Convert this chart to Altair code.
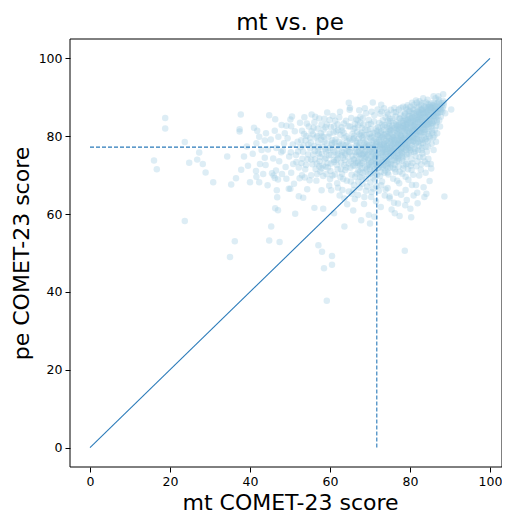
import altair as alt
import pandas as pd

# ---- values ----
chart_title = "mt vs. pe"
mean_mt = 71.7   # vertical dashed line (mt)
mean_pe = 77.2   # horizontal dashed line (pe)
tick_values = [0, 20, 40, 60, 80, 100]
diag_mt = [0, 100]
diag_pe = [0, 100]
x_limits = [-5, 103]
y_limits = [-5, 105]

# sparse outlying points (mt, pe)
outlier_points = [
    (18.8, 84.7), (18.8, 82.0), (16.0, 73.8), (16.7, 71.5), (23.7, 78.5), (23.7, 58.2), (24.8, 73.2),
    (27.3, 75.8), (26.8, 74.0), (28.2, 72.9), (28.9, 70.7), (30.8, 68.2), (34.3, 74.8), (35.3, 67.6),
    (36.5, 69.2), (37.7, 85.6), (37.4, 81.8), (37.4, 81.2), (37.8, 71.4), (38.5, 74.8), (39.2, 77.4),
    (39.5, 72.4), (40.0, 68.2), (40.7, 75.5), (41.0, 82.2), (41.5, 71.1), (41.6, 69.6), (41.8, 81.4),
    (42.3, 68.2), (42.5, 72.9), (41.6, 78.2), (42.3, 79.9), (43.7, 78.9), (43.9, 72.6), (43.7, 74.5),
    (44.4, 67.4), (44.8, 85.4), (45.3, 56.8), (45.5, 70.5), (46.2, 69.3), (47.0, 68.9), (46.5, 71.2),
    (45.9, 69.9), (46.3, 84.4), (46.2, 81.4), (46.7, 66.1), (46.8, 64.3), (46.3, 61.5), (47.0, 61.0),
    (47.1, 79.9), (47.9, 82.9), (48.7, 80.8), (49.1, 69.1), (49.7, 66.5), (50.5, 85.1), (50.3, 82.6),
    (51.3, 60.1), (52.2, 64.6), (53.3, 64.2), (50.1, 66.5), (44.8, 53.2), (36.2, 53.0), (35.0, 49.0),
    (47.4, 52.8), (57.1, 52.0), (58.0, 50.3), (60.5, 49.2), (58.5, 46.1), (60.5, 47.0), (59.2, 37.7),
    (78.7, 50.6), (63.6, 56.8), (67.8, 58.4), (70.0, 57.6), (69.7, 59.8), (71.1, 59.3), (65.8, 60.9),
    (61.0, 60.2), (56.1, 61.6), (58.3, 61.4), (88.6, 64.5), (84.1, 65.2), (83.6, 64.4), (81.8, 65.5),
    (80.3, 59.2), (77.4, 59.5), (76.2, 60.2), (78.8, 62.3), (77.0, 62.7), (80.1, 61.4), (75.4, 61.2),
    (74.9, 64.5), (73.7, 64.8), (70.3, 64.4), (72.7, 61.8), (80.5, 67.5), (77.8, 65.0), (90.3, 86.9),
    (88.3, 90.8), (85.9, 90.3), (70.7, 88.7), (64.7, 88.6), (65.0, 87.3), (72.8, 88.1), (85.2, 72.9),
    (83.7, 73.5),
]

# moderately dense region left of the core (mt, pe)
middle_points = [
    (48.2, 76.3), (48.9, 72.1), (49.4, 79.5), (49.8, 74.8), (50.3, 70.6), (50.7, 77.9), (51.2, 81.3),
    (51.6, 73.4), (52.0, 76.1), (52.4, 69.2), (52.8, 79.0), (51.0, 67.8), (49.1, 82.7), (50.1, 84.3),
    (52.5, 83.5), (53.1, 74.2), (53.4, 77.6), (53.8, 71.5), (54.1, 80.1), (54.5, 75.3), (54.9, 68.7),
    (55.2, 78.4), (55.6, 72.8), (55.9, 82.2), (53.6, 84.9), (54.3, 66.4), (55.0, 76.9), (56.2, 74.1),
    (56.5, 79.7), (56.8, 70.3), (53.0, 70.0), (55.4, 85.6), (56.1, 83.6), (57.1, 77.2), (57.4, 73.6),
    (57.7, 80.8), (58.0, 75.5), (58.3, 69.8), (58.6, 78.6), (58.9, 72.2), (59.2, 83.0), (59.5, 76.4),
    (59.8, 67.3), (57.3, 84.6), (57.9, 66.1), (58.4, 81.7), (59.0, 74.4), (59.6, 79.9), (60.1, 71.1),
    (60.4, 77.8), (60.7, 85.2), (60.2, 82.4), (60.9, 73.9), (57.6, 70.9), (59.3, 86.1), (61.1, 75.9),
    (61.4, 79.2), (61.7, 72.7), (62.0, 81.6), (62.3, 76.8), (62.6, 69.5), (62.9, 78.1), (63.2, 74.5),
    (63.5, 83.3), (63.8, 71.3), (64.1, 80.0), (64.4, 76.2), (64.7, 73.0), (65.0, 78.9), (65.3, 84.7),
    (65.6, 75.0), (65.9, 81.9), (61.3, 84.0), (61.8, 67.9), (62.5, 86.3), (63.1, 66.2), (64.2, 68.6),
    (64.9, 86.8), (65.4, 70.1), (61.6, 77.5), (62.8, 73.2), (63.6, 79.6), (64.6, 82.6), (65.8, 72.4),
    (63.9, 76.9), (55.3, 74.0), (56.0, 77.5), (56.7, 73.0), (57.2, 75.6), (57.8, 79.1), (58.2, 72.5),
    (58.8, 76.8), (59.4, 73.1), (59.9, 80.7), (60.3, 75.2), (60.6, 79.0), (61.0, 73.4), (61.5, 81.2),
    (61.9, 74.3), (62.2, 78.6), (62.7, 71.6), (63.0, 76.0), (63.4, 80.9), (63.7, 73.9), (64.0, 77.7),
    (64.5, 74.6), (64.8, 79.4), (65.1, 71.9), (65.5, 77.1), (65.9, 74.1), (66.0, 79.5), (66.6, 84.3),
    (67.0, 82.8), (67.6, 85.0), (68.2, 84.6), (69.0, 85.9), (69.7, 84.2), (70.4, 86.3), (71.1, 85.4),
    (71.9, 86.9), (72.6, 85.8), (73.5, 87.2), (74.3, 86.1), (75.2, 86.8), (76.1, 87.3), (77.2, 86.9),
    (78.3, 87.6), (79.4, 88.0), (80.5, 88.6), (81.5, 89.2), (82.4, 89.0), (83.3, 89.8), (84.4, 89.4),
    (86.4, 89.8), (87.1, 90.3), (60.0, 69.0), (61.2, 70.2), (62.0, 66.8), (63.3, 69.0), (64.7, 65.8),
    (66.0, 67.5), (67.0, 64.9), (68.1, 67.8), (69.0, 66.0), (70.1, 68.1), (70.8, 66.6), (71.6, 67.2),
    (72.8, 67.4), (73.9, 66.3), (44.5, 76.6), (45.2, 79.2), (45.8, 74.3), (46.6, 77.0), (47.3, 73.6),
    (47.8, 75.9), (48.5, 78.2), (44.0, 80.8), (42.9, 76.5), (43.3, 70.3), (48.0, 70.3), (50.8, 72.9),
    (51.9, 78.6), (52.9, 73.1), (53.9, 79.0), (54.7, 82.5), (54.0, 72.6), (55.7, 80.5), (56.9, 82.0),
    (58.6, 84.5), (51.5, 75.2), (53.3, 76.0), (54.6, 77.9), (55.8, 75.3), (56.4, 71.6), (57.0, 78.6),
    (57.5, 74.7), (58.1, 77.3), (58.7, 74.1), (59.2, 78.2), (59.7, 75.1), (60.2, 73.0), (60.8, 76.4),
    (61.2, 78.4), (61.8, 75.2), (62.4, 77.6), (62.9, 75.1), (63.3, 77.8), (63.8, 75.4), (64.3, 78.6),
    (64.8, 76.0), (65.2, 73.5), (65.7, 79.2), (66.3, 75.9), (66.8, 81.1), (67.3, 75.3), (65.0, 82.5),
    (64.0, 84.0), (62.9, 82.3), (61.9, 83.1), (60.9, 81.0), (59.9, 84.2), (58.9, 82.3), (57.9, 83.0),
    (56.8, 80.1), (55.4, 81.3), (54.2, 83.3), (53.0, 81.4), (52.2, 72.0), (53.7, 69.4), (55.3, 70.0),
    (56.6, 68.6), (57.9, 71.8), (59.1, 70.3), (60.6, 69.9), (61.9, 71.5), (63.0, 70.4), (64.1, 72.0),
    (65.2, 68.4), (66.3, 69.6), (67.1, 68.3), (68.0, 69.4), (69.0, 69.1),
    (55.0, 79.6), (56.2, 76.2), (57.3, 72.3), (58.4, 79.9), (59.5, 72.0), (60.5, 78.3), (61.6, 73.9),
    (62.6, 80.4), (63.6, 72.6), (64.6, 77.4), (65.6, 80.6), (66.4, 73.1), (67.2, 77.2), (67.8, 80.2),
    (59.0, 76.0), (60.0, 77.0), (62.0, 75.5), (63.5, 75.8), (65.0, 75.9), (66.5, 78.7), (58.0, 80.0),
    (61.0, 82.5), (63.0, 81.5), (66.2, 83.2), (57.0, 76.3), (54.4, 74.1), (52.6, 77.2), (50.2, 75.9),
    (53.5, 80.6), (56.3, 85.0), (62.3, 84.9), (67.3, 86.7), (68.7, 87.2), (60.3, 66.1), (62.4, 64.8),
    (65.9, 66.2), (68.5, 62.6), (67.5, 70.9),
]

# dense band along the diagonal (mt, pe)
core_points = [
    (66.2, 72.5), (66.5, 75.1), (66.8, 78.3), (66.1, 80.2), (66.7, 70.4), (66.4, 76.8), (66.9, 73.6), (66.3, 82.1),
    (67.1, 71.2), (67.4, 74.3), (67.8, 76.9), (67.2, 79.4), (67.6, 72.8), (67.9, 81.0), (67.3, 77.7), (67.5, 69.5),
    (67.7, 75.6), (68.0, 73.1), (68.3, 75.4), (68.6, 78.2), (68.2, 70.6), (68.8, 72.0), (68.5, 80.3), (68.1, 76.6),
    (68.7, 74.2), (68.4, 83.0), (68.9, 77.3), (69.2, 71.5), (69.5, 73.9), (69.8, 76.0), (69.1, 78.8), (69.6, 70.2),
    (69.3, 75.2), (69.9, 79.7), (69.4, 81.6), (69.7, 72.7), (69.0, 74.6), (69.5, 77.4), (70.1, 72.1), (70.4, 74.8),
    (70.7, 77.1), (70.2, 79.5), (70.9, 71.0), (70.5, 75.9), (70.3, 73.3), (70.8, 80.9), (70.6, 78.3), (70.0, 76.4),
    (70.7, 69.4), (70.2, 83.2), (71.1, 73.7), (71.4, 76.2), (71.8, 78.6), (71.2, 71.6), (71.6, 74.9), (71.9, 80.2),
    (71.3, 77.5), (71.7, 72.4), (71.5, 82.0), (71.0, 75.4), (71.8, 70.1), (71.4, 79.3), (72.1, 74.4), (72.4, 76.8),
    (72.7, 73.1), (72.3, 79.1), (72.9, 75.7), (72.6, 78.0), (72.2, 71.9), (72.8, 81.3), (72.5, 77.3), (72.0, 80.4),
    (72.7, 70.8), (72.3, 83.4), (72.9, 74.0), (73.2, 75.2), (73.5, 77.6), (73.8, 74.3), (73.1, 79.8), (73.6, 72.6),
    (73.3, 76.4), (73.9, 78.8), (73.4, 81.6), (73.7, 75.9), (73.0, 73.4), (73.5, 80.4), (73.8, 71.2), (73.2, 84.1),
    (74.1, 76.0), (74.4, 78.3), (74.7, 74.8), (74.2, 80.6), (74.9, 77.1), (74.5, 72.9), (74.3, 82.3), (74.8, 79.4),
    (74.0, 75.3), (74.6, 76.8), (74.2, 73.7), (74.7, 81.2), (74.4, 70.7), (74.9, 84.6), (75.1, 76.9), (75.4, 79.2),
    (75.7, 75.4), (75.2, 81.5), (75.8, 78.1), (75.5, 73.8), (75.3, 77.6), (75.9, 80.3), (75.0, 74.6), (75.6, 82.8),
    (75.4, 76.1), (75.8, 71.9), (75.1, 83.9), (75.7, 79.8), (76.1, 77.5), (76.4, 80.0), (76.7, 76.3), (76.2, 82.1),
    (76.9, 78.7), (76.5, 74.4), (76.3, 79.1), (76.8, 81.3), (76.0, 75.8), (76.6, 83.6), (76.2, 72.7), (76.9, 77.9),
    (76.4, 85.1), (76.7, 73.5), (77.1, 78.4), (77.4, 80.7), (77.7, 77.0), (77.2, 82.9), (77.8, 79.6), (77.5, 75.2),
    (77.3, 81.6), (77.9, 84.0), (77.0, 76.5), (77.6, 78.9), (77.2, 73.6), (77.8, 82.3), (77.4, 70.9), (77.6, 85.6),
    (78.1, 79.1), (78.4, 81.3), (78.7, 77.8), (78.2, 83.4), (78.8, 80.4), (78.5, 76.1), (78.3, 82.0), (78.9, 84.5),
    (78.0, 77.2), (78.6, 79.7), (78.2, 74.3), (78.7, 86.0), (78.4, 72.5), (78.9, 81.8), (79.1, 80.0), (79.4, 82.2),
    (79.7, 78.6), (79.2, 84.1), (79.8, 81.0), (79.5, 76.9), (79.3, 83.0), (79.9, 85.3), (79.0, 78.0), (79.6, 80.6),
    (79.2, 75.3), (79.7, 86.4), (79.4, 73.0), (79.8, 83.7), (80.1, 80.8), (80.4, 82.9), (80.7, 79.4), (80.2, 84.6),
    (80.8, 81.7), (80.5, 77.6), (80.3, 83.8), (80.9, 85.9), (80.0, 78.8), (80.6, 81.2), (80.2, 75.8), (80.7, 87.0),
    (80.4, 74.1), (80.9, 82.5), (81.1, 81.5), (81.4, 83.6), (81.7, 80.1), (81.2, 85.2), (81.8, 82.4), (81.5, 78.3),
    (81.3, 84.5), (81.9, 86.3), (81.0, 79.6), (81.6, 81.9), (81.2, 76.7), (81.7, 87.5), (81.4, 74.9), (82.1, 82.2),
    (82.4, 84.3), (82.7, 80.9), (82.2, 85.9), (82.8, 83.1), (82.5, 79.0), (82.3, 85.0), (82.9, 86.8), (82.0, 80.3),
    (82.6, 82.7), (82.2, 77.5), (82.7, 88.1), (83.1, 83.0), (83.4, 84.9), (83.7, 81.6), (83.2, 86.4), (83.8, 83.8),
    (83.5, 79.7), (83.3, 85.7), (83.9, 87.4), (83.0, 81.0), (83.6, 82.4), (83.2, 78.2), (84.1, 83.7), (84.4, 85.5),
    (84.7, 82.4), (84.2, 87.0), (84.8, 84.5), (84.5, 80.6), (84.3, 86.3), (84.9, 88.0), (84.0, 81.8), (84.6, 83.1),
    (85.1, 84.4), (85.4, 86.1), (85.7, 83.2), (85.2, 87.6), (85.8, 85.3), (85.5, 81.5), (85.3, 88.4), (85.9, 86.7),
    (86.1, 85.2), (86.4, 86.9), (86.7, 84.1), (86.2, 88.2), (86.8, 86.0), (86.5, 82.7), (87.1, 86.0), (87.4, 87.7),
    (87.7, 85.0), (87.2, 88.8), (87.8, 86.8), (88.2, 87.3), (88.5, 88.6), (88.8, 85.9),
    (70.3, 76.7), (70.9, 78.9), (71.3, 74.3), (71.6, 77.9), (72.0, 75.6), (72.4, 78.5), (72.8, 72.6), (73.1, 76.8),
    (73.4, 79.3), (73.7, 77.2), (74.0, 74.1), (74.3, 77.7), (74.6, 79.9), (74.8, 75.7), (75.2, 78.4), (75.5, 80.6),
    (75.8, 76.5), (76.1, 78.9), (76.4, 81.7), (76.6, 77.2), (77.0, 79.3), (77.3, 83.2), (77.5, 77.8), (77.9, 80.2),
    (78.2, 78.5), (78.5, 82.6), (78.7, 80.9), (79.0, 79.1), (79.3, 81.5), (79.6, 84.4), (79.9, 82.1), (80.2, 80.0),
    (80.5, 81.4), (80.8, 83.9), (81.1, 82.8), (81.4, 80.7), (81.7, 84.2), (82.0, 83.6), (82.3, 81.5), (82.6, 85.4),
    (82.9, 84.1), (83.2, 82.3), (83.5, 86.0), (83.8, 84.8), (84.2, 84.1), (84.5, 86.6), (84.8, 85.6), (85.2, 85.2),
    (85.6, 87.2), (86.0, 86.4), (86.3, 87.7), (69.4, 75.6), (69.8, 73.1), (70.6, 73.8), (68.8, 76.1), (68.3, 78.9),
    (67.9, 74.4), (67.2, 76.0), (76.9, 75.6), (77.6, 76.4), (78.4, 76.9), (79.2, 77.6), (80.0, 76.4), (80.7, 78.6),
    (81.3, 77.9), (82.1, 79.4), (82.8, 78.1), (83.4, 80.4), (84.0, 79.3), (84.7, 81.2), (75.3, 72.8), (76.2, 71.5),
    (77.1, 72.2), (78.0, 73.8), (79.0, 72.9), (74.5, 71.8), (73.6, 70.6), (72.5, 69.8), (71.2, 68.9), (79.5, 71.5),
    (80.6, 73.1), (81.6, 72.3), (82.4, 74.6), (83.1, 75.6), (83.9, 77.3), (84.4, 78.7), (85.0, 79.6), (85.6, 80.9),
    (86.2, 81.6), (86.7, 83.6), (87.3, 84.1),
    (66.0, 74.0), (66.6, 77.6), (67.0, 73.2), (67.5, 78.4), (67.9, 71.8), (68.1, 79.6), (68.6, 75.7), (68.9, 70.9),
    (69.1, 77.9), (69.6, 74.3), (69.9, 80.6), (70.0, 71.5), (70.5, 79.9), (70.8, 75.3), (71.0, 77.0), (71.3, 72.8),
    (71.7, 81.3), (71.9, 76.5), (72.2, 73.4), (72.6, 80.0), (72.9, 77.8), (73.0, 75.9), (73.3, 82.5), (73.6, 78.2),
    (73.9, 73.6), (74.1, 79.0), (74.4, 75.5), (74.7, 83.3), (74.9, 78.7), (75.0, 80.8), (75.3, 75.0), (75.6, 77.3),
    (75.9, 82.0), (76.0, 79.6), (76.3, 76.7), (76.5, 83.0), (76.8, 80.4), (77.0, 74.3), (77.3, 78.0), (77.5, 82.4),
    (77.7, 79.9), (77.9, 75.8), (78.0, 81.4), (78.3, 84.0), (78.6, 78.3), (78.8, 83.0), (79.0, 76.4), (79.1, 82.9),
    (79.4, 79.4), (79.6, 85.2), (79.8, 77.2), (80.0, 83.4), (80.3, 79.0), (80.5, 85.0), (80.7, 80.3), (80.9, 84.3),
    (81.0, 78.8), (81.3, 83.0), (81.5, 86.0), (81.8, 81.2), (81.9, 84.8), (82.1, 78.6), (82.3, 86.4), (82.5, 82.0),
    (82.8, 84.9), (83.0, 79.2), (83.2, 87.1), (83.5, 83.3), (83.7, 85.3), (83.9, 82.9), (84.1, 86.0), (84.3, 82.9),
    (84.6, 87.6), (84.9, 83.8), (85.1, 86.8), (85.4, 84.0), (85.7, 88.0), (85.9, 85.0), (86.2, 87.0), (86.5, 85.6),
    (86.8, 88.4), (87.0, 87.2), (87.6, 86.3), (87.9, 88.0), (88.3, 89.1), (68.4, 73.6), (69.3, 72.4), (70.2, 70.4),
    (71.1, 70.6), (72.1, 72.9), (73.2, 71.9), (74.2, 72.2), (75.2, 73.3), (76.1, 73.9), (77.1, 75.0), (78.1, 75.6),
    (79.1, 74.6), (80.1, 77.0), (81.1, 75.9), (82.0, 76.4), (83.0, 77.0), (83.8, 78.9), (84.8, 80.0), (85.4, 82.6),
    (86.0, 83.9), (74.6, 70.2), (76.4, 70.8), (78.3, 71.7), (80.2, 72.4), (81.9, 73.6), (83.3, 74.6), (84.2, 76.0),
    (85.4, 78.1), (76.8, 68.6), (78.9, 69.6), (80.8, 70.1), (82.7, 71.4), (84.3, 72.9), (86.1, 80.2), (70.1, 81.9),
    (71.0, 83.8), (72.0, 82.3), (73.0, 83.0), (73.9, 84.8), (74.8, 82.5), (75.6, 84.6), (76.5, 86.2), (77.5, 84.6),
    (78.5, 85.3), (79.2, 86.9), (80.1, 87.6), (81.0, 88.1), (82.2, 87.6), (83.0, 88.5), (84.0, 88.7), (67.4, 80.5),
    (68.0, 82.1), (68.8, 81.7), (69.6, 83.0), (66.9, 84.2), (67.6, 83.5),
    (70.4, 77.8), (70.9, 74.2), (71.2, 80.7), (71.5, 73.0), (71.9, 77.3), (72.2, 81.7), (72.5, 75.0), (72.8, 79.6),
    (73.1, 72.2), (73.4, 78.0), (73.7, 82.9), (74.0, 76.8), (74.3, 80.0), (74.6, 73.2), (74.9, 82.0), (75.2, 76.3),
    (75.5, 78.9), (75.8, 83.4), (76.1, 75.0), (76.4, 78.3), (76.7, 81.9), (77.0, 77.7), (77.3, 84.6), (77.6, 80.2),
    (77.9, 76.7), (78.2, 82.7), (78.5, 79.3), (78.8, 85.7), (79.1, 77.1), (79.4, 83.6), (79.7, 81.3), (80.0, 86.5),
    (80.3, 82.3), (80.6, 79.9), (80.9, 86.8), (81.2, 83.3), (81.5, 80.6), (81.8, 85.6), (82.1, 84.4), (82.4, 81.1),
    (82.7, 86.9), (83.0, 84.6), (83.3, 81.8), (83.6, 87.7), (83.9, 86.1), (84.2, 83.2), (84.5, 88.3), (84.8, 86.9),
    (85.1, 83.0), (85.4, 87.3), (85.7, 85.7), (86.0, 88.6), (86.3, 84.8), (86.6, 87.6), (86.9, 85.2), (87.2, 89.4),
    (87.5, 87.0), (87.8, 88.5), (88.1, 86.3), (88.4, 87.9), (71.4, 75.1), (72.3, 77.6), (73.3, 74.7), (74.2, 77.3),
    (75.1, 75.6), (76.0, 78.1), (77.0, 80.9), (77.9, 78.1), (78.9, 82.3), (79.8, 79.8), (80.8, 82.7), (81.7, 79.3),
    (82.6, 83.6), (83.6, 81.0), (84.5, 84.8), (85.5, 83.5), (86.4, 86.3), (69.8, 77.9), (69.2, 80.3), (68.7, 77.3),
    (68.0, 75.2), (67.4, 72.5), (66.8, 75.9), (70.5, 72.5), (71.8, 71.7), (73.5, 73.5), (75.0, 72.0), (76.6, 74.8),
    (78.0, 74.8), (79.7, 75.5), (81.4, 76.3), (82.9, 76.4), (84.5, 77.4), (85.8, 79.7), (72.9, 86.4), (74.5, 85.6),
    (76.0, 86.2), (77.7, 87.3), (79.0, 87.4), (80.4, 85.9), (81.7, 88.6), (83.1, 86.8), (84.8, 87.4), (73.6, 76.5),
    (75.6, 76.2), (77.4, 79.1), (79.3, 78.5), (81.2, 81.4), (83.2, 82.9), (75.0, 81.7), (76.9, 82.7), (78.7, 84.2),
    (80.6, 84.8), (82.5, 86.0), (72.7, 80.9), (71.5, 78.6), (74.4, 84.0), (73.9, 80.7),
]

# below the diagonal (mt, pe)
lower_points = [
    (73.0, 68.4), (74.4, 66.7), (75.8, 69.1), (76.6, 65.5), (77.3, 67.9), (78.1, 70.4), (78.9, 66.2), (79.6, 68.8),
    (80.4, 71.3), (80.9, 64.8), (81.5, 67.5), (82.3, 69.9), (82.8, 72.8), (83.4, 66.9), (83.9, 70.6), (84.6, 74.2),
    (85.3, 71.7), (85.9, 76.5), (86.5, 78.6), (86.8, 80.8), (87.5, 82.5), (84.9, 68.5), (81.9, 62.8), (79.2, 63.6),
    (76.0, 62.9), (74.9, 64.1), (72.2, 66.0), (71.5, 63.3), (70.4, 65.7), (69.3, 67.1), (68.6, 64.4), (67.4, 66.8),
    (66.2, 63.9), (65.5, 65.2), (64.3, 62.5), (63.6, 64.0),
]

all_points = outlier_points + middle_points + core_points + lower_points
points_df = pd.DataFrame(all_points, columns=["mt", "pe"])
diag_df = pd.DataFrame({"mt": diag_mt, "pe": diag_pe})
vline_df = pd.DataFrame({"mt": [mean_mt], "pe": [0.0], "pe2": [mean_pe]})
hline_df = pd.DataFrame({"mt": [0.0], "mt2": [mean_mt], "pe": [mean_pe]})
frame_df = pd.DataFrame({"mt": [x_limits[0]], "mt2": [x_limits[1]], "pe": [y_limits[0]], "pe2": [y_limits[1]]})
title_df = pd.DataFrame({"label": [chart_title]})

FONT = "DejaVu Sans"
LINE_COLOR = "#2a7ab9"

PLOT_W = 432
PLOT_H = 428

x_scale = alt.Scale(domain=x_limits, nice=False, zero=False)
y_scale = alt.Scale(domain=y_limits, nice=False, zero=False)

x_axis = alt.Axis(
    values=tick_values, title="mt COMET-23 score", titleX=220, titleY=42,
    titleAlign="center", titleBaseline="alphabetic", labelPadding=3,
)
y_axis = alt.Axis(
    values=tick_values, title="pe COMET-23 score", titleAngle=270, titleX=-42, titleY=PLOT_H / 2,
    titleAlign="center", titleBaseline="alphabetic", labelPadding=3,
)

enc_x = alt.X("mt:Q", scale=x_scale, axis=x_axis)
enc_y = alt.Y("pe:Q", scale=y_scale, axis=y_axis)

scatter = alt.Chart(points_df).mark_circle(
    size=42, color="#9ecae1", opacity=0.35, strokeWidth=0
).encode(x=enc_x, y=enc_y)

diag = alt.Chart(diag_df).mark_line(color=LINE_COLOR, strokeWidth=1.1).encode(x=enc_x, y=enc_y)

vline = alt.Chart(vline_df).mark_rule(color=LINE_COLOR, strokeWidth=1.1, strokeDash=[4, 2]).encode(
    x=enc_x, y=enc_y, y2="pe2:Q",
)

hline = alt.Chart(hline_df).mark_rule(color=LINE_COLOR, strokeWidth=1.1, strokeDash=[4, 2]).encode(
    x=enc_x, x2="mt2:Q", y=enc_y,
)

frame = alt.Chart(frame_df).mark_rect(fill="transparent", stroke="black", strokeWidth=1).encode(
    x=enc_x, x2="mt2:Q", y=enc_y, y2="pe2:Q",
)

title_text = alt.Chart(title_df).mark_text(
    font=FONT, fontSize=23, color="black", align="center", baseline="alphabetic"
).encode(
    text="label:N",
    x=alt.value(220),
    y=alt.value(-9),
)

chart = alt.layer(scatter, diag, vline, hline, frame, title_text).properties(
    width=PLOT_W,
    height=PLOT_H,
    autosize=alt.AutoSizeParams(type="none"),
    padding={"left": 62, "top": 31, "right": 0, "bottom": 48},
).configure_view(
    strokeWidth=0
).configure_axis(
    grid=False, domain=False, tickColor="black", tickSize=5, tickWidth=1,
    labelFont=FONT, labelFontSize=12.5, labelColor="black",
    titleFont=FONT, titleFontSize=22, titleFontWeight="normal", titleColor="black",
)

chart.save("out.html", embed_options={"renderer": "svg", "actions": False})
